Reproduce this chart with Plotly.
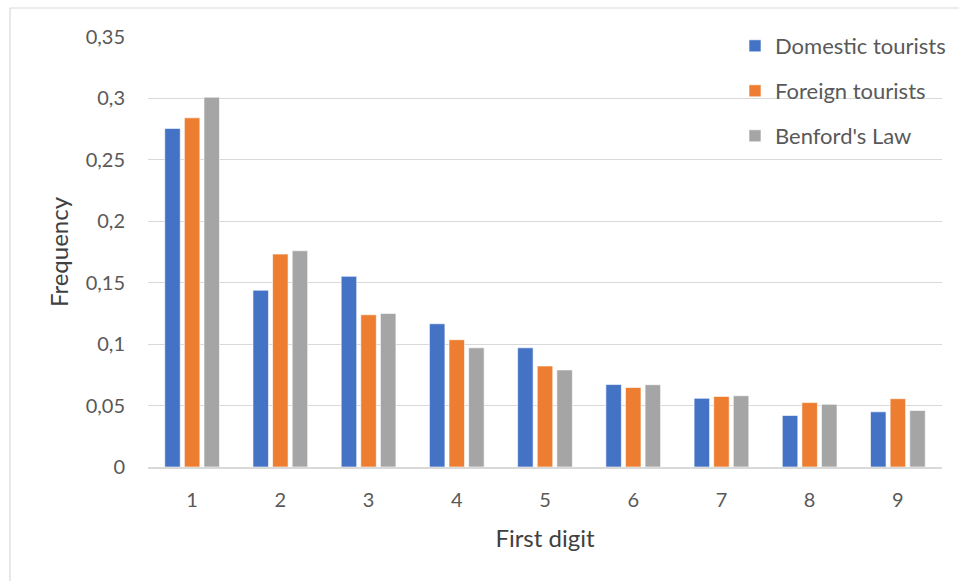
import plotly.graph_objects as go

digits = ["1", "2", "3", "4", "5", "6", "7", "8", "9"]
domestic = [0.2756, 0.1439, 0.1552, 0.1166, 0.0970, 0.0671, 0.0559, 0.0419, 0.0449]
foreign = [0.2842, 0.1733, 0.1239, 0.1036, 0.0822, 0.0647, 0.0574, 0.0524, 0.0556]
benford = [0.301, 0.176, 0.125, 0.097, 0.079, 0.067, 0.058, 0.051, 0.046]
y_tickvals = [0, 0.05, 0.1, 0.15, 0.2, 0.25, 0.3, 0.35]
y_ticktext = ["0", "0,05", "0,1", "0,15", "0,2", "0,25", "0,3", "0,35"]

FONT = "Lato"
GRAY_TXT = "#595959"

# plot area in pixels
L, R, T, B = 148, 942, 37, 467
W, H = 959, 581
pw, ph = R - L, B - T

def px_x(p):
    return (p - L) / pw

def px_y(p):
    return (B - p) / ph

fig = go.Figure()
series = [
    ("Domestic tourists", domestic, "#4472C4", "legend"),
    ("Foreign tourists", foreign, "#ED7D31", "legend2"),
    ("Benford's Law", benford, "#A5A5A5", "legend3"),
]
for name, vals, col, lg in series:
    fig.add_trace(go.Bar(
        x=digits, y=vals, name=name, legend=lg, showlegend=True,
        marker=dict(color=col, line=dict(color="rgba(255,255,255,0.6)", width=1)),
    ))

leg_x = px_x(735)
leg_common = dict(xanchor="left", yanchor="middle", bgcolor="rgba(0,0,0,0)",
                  font=dict(family=FONT, size=22, color=GRAY_TXT))

fig.update_layout(
    width=W, height=H,
    margin=dict(l=L, r=W - R, t=T, b=H - B, pad=0, autoexpand=False),
    paper_bgcolor="white", plot_bgcolor="white",
    separators=",.",
    showlegend=True,
    barmode="group", bargap=0.333, bargroupgap=0.21,
    font=dict(family=FONT, color=GRAY_TXT),
    legend=dict(x=leg_x, y=px_y(46), **leg_common),
    legend2=dict(x=leg_x, y=px_y(91), **leg_common),
    legend3=dict(x=leg_x, y=px_y(136), **leg_common),
    xaxis=dict(
        type="category",
        showgrid=False, showline=True, linecolor="#d9d9d9", linewidth=1.5,
        ticks="", tickfont=dict(family=FONT, size=20, color=GRAY_TXT),
        ticklabelstandoff=14,
        title=dict(text="First digit", font=dict(family=FONT, size=24, color="#404040"), standoff=20),
    ),
    yaxis=dict(
        range=[0, 0.35], tickvals=y_tickvals, ticktext=y_ticktext,
        showgrid=True, gridcolor="#d9d9d9", gridwidth=1.3,
        zeroline=False, showline=False,
        ticks="", tickfont=dict(family=FONT, size=20, color=GRAY_TXT),
        ticklabelstandoff=22,
        title=dict(text="Frequency", font=dict(family=FONT, size=24, color="#404040"), standoff=10),
    ),
    shapes=[dict(type="rect", xref="paper", yref="paper",
                 x0=px_x(10), x1=px_x(W + 20), y0=px_y(H + 20), y1=px_y(8),
                 line=dict(color="#d9d9d9", width=1.2), fillcolor="rgba(0,0,0,0)", layer="below")],
)

fig.write_html("out.html", config={"displayModeBar": False},
               post_script="document.body.style.margin='0px';document.body.style.overflow='hidden';")
